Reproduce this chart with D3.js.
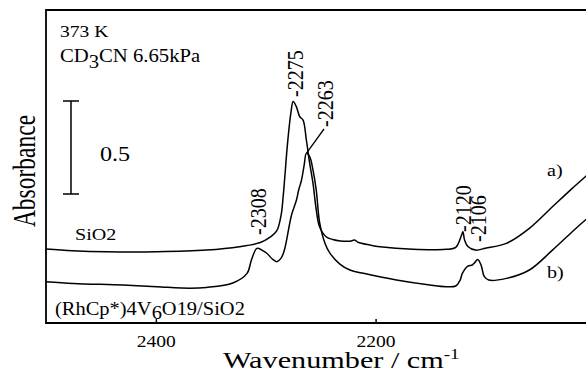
<!DOCTYPE html>
<html>
<head>
<meta charset="utf-8">
<script src="https://cdn.jsdelivr.net/npm/d3@7"></script>
<style>
  body { margin: 0; background: #fff; }
  svg { display: block; }
  text { font-family: "Liberation Serif", "Times New Roman", serif; fill: #000; }
</style>
</head>
<body>
<svg id="chart" width="586" height="374"></svg>
<script>
// wavenumber (cm-1) / absorbance
const wnA = [2500, 2476, 2445, 2399, 2354, 2324, 2305, 2296, 2290, 2286, 2284, 2280, 2277, 2275, 2272, 2269, 2266, 2263, 2260, 2257, 2254, 2251, 2245, 2239, 2232, 2223, 2219, 2216, 2205, 2196, 2166, 2136, 2127, 2122, 2120.5, 2119, 2116, 2109, 2100, 2081, 2060, 2039, 2021, 2009, 2000];
const absA = [0.398, 0.389, 0.383, 0.383, 0.392, 0.410, 0.433, 0.462, 0.495, 0.580, 0.688, 0.975, 1.134, 1.191, 1.161, 1.109, 1.091, 0.984, 0.860, 0.753, 0.608, 0.518, 0.464, 0.449, 0.441, 0.440, 0.446, 0.434, 0.419, 0.410, 0.396, 0.396, 0.407, 0.468, 0.491, 0.446, 0.411, 0.392, 0.402, 0.428, 0.509, 0.625, 0.724, 0.787, 0.833];

const wnB = [2500, 2475, 2430, 2399, 2369, 2354, 2330, 2317, 2313, 2308, 2303.5, 2299, 2294, 2290, 2286, 2283, 2281, 2276.5, 2272, 2270, 2267.4, 2265, 2263, 2260, 2257, 2254, 2251, 2246, 2241.6, 2232.5, 2223.4, 2211, 2181, 2150.6, 2136, 2127, 2123, 2121, 2116, 2112, 2110, 2107, 2104, 2101, 2097, 2081, 2060, 2039, 2021, 2009, 2000];
const absB = [0.222, 0.213, 0.204, 0.195, 0.187, 0.191, 0.215, 0.267, 0.339, 0.401, 0.392, 0.375, 0.344, 0.330, 0.349, 0.392, 0.446, 0.581, 0.661, 0.715, 0.769, 0.849, 0.912, 0.894, 0.823, 0.715, 0.543, 0.428, 0.376, 0.317, 0.285, 0.267, 0.231, 0.204, 0.195, 0.199, 0.231, 0.267, 0.306, 0.312, 0.323, 0.342, 0.312, 0.249, 0.231, 0.240, 0.285, 0.392, 0.491, 0.554, 0.597];

const xTicks = [2400, 2200];
const peakLabels = ["-2308", "-2275", "-2263", "-2120", "-2106"];
const scaleBarFrom = 0.694;
const scaleBarSize = 0.5;

const svg = d3.select("#chart");
const plotLeft = 46, plotTop = 10, plotBottom = 323;

const x = d3.scaleLinear().domain([2500, 2000]).range([plotLeft, 595.3]);
const y = d3.scaleLinear().domain([0, 1.683]).range([plotBottom, plotTop]);

// frame: left, top, bottom (right side is cut off in the scan)
svg.append("path")
  .attr("d", `M600,${plotTop}H${plotLeft}V${plotBottom}H600`)
  .attr("fill", "none")
  .attr("stroke", "#000")
  .attr("stroke-width", 1.8);

const xAxis = svg.append("g")
  .attr("transform", `translate(0,${plotBottom})`)
  .call(d3.axisBottom(x).tickValues(xTicks).tickSize(-4).tickFormat(d3.format("d")));
xAxis.select(".domain").remove();
xAxis.selectAll(".tick line").attr("stroke", "#000").attr("stroke-width", 1.5);
xAxis.selectAll(".tick text")
  .attr("font-size", 17)
  .attr("fill", "#000")
  .attr("y", 0)
  .attr("dy", 0)
  .attr("transform", "translate(0,24) scale(1.15,1)");

const line = d3.line()
  .x(d => x(d[0]))
  .y(d => y(d[1]))
  .curve(d3.curveCatmullRom.alpha(0.5));

[[wnA, absA], [wnB, absB]].forEach(([wn, ab]) => {
  svg.append("path")
    .datum(wn.map((w, i) => [w, ab[i]]))
    .attr("d", line)
    .attr("fill", "none")
    .attr("stroke", "#000")
    .attr("stroke-width", 1.5)
    .attr("stroke-linejoin", "round");
});

// 0.5 scale bar
const sbx = 71;
svg.append("path")
  .attr("d", `M${sbx},${y(scaleBarFrom)}V${y(scaleBarFrom + scaleBarSize)}` +
    `M${sbx - 8},${y(scaleBarFrom)}H${sbx + 8}M${sbx - 8},${y(scaleBarFrom + scaleBarSize)}H${sbx + 8}`)
  .attr("stroke", "#000")
  .attr("stroke-width", 1.5)
  .attr("fill", "none");

function label(px, py, size, sx, rotate) {
  let t = `translate(${px},${py}) scale(${sx},1)`;
  if (rotate) t += " rotate(-90)";
  return svg.append("text").attr("font-size", size).attr("transform", t);
}

label(100, 161, 21, 1.15).text("0.5");
label(60, 37, 17, 1.15).text("373 K");

const cd = label(60, 61.5, 18, 1.15);
cd.append("tspan").text("CD");
cd.append("tspan").attr("dy", 6.5).text("3");
cd.append("tspan").attr("dy", -6.5).text("CN 6.65kPa");

label(75, 240, 17.5, 1.15).text("SiO2");

const rh = label(55, 315, 17.8, 1.15);
rh.append("tspan").text("(RhCp*)4V");
rh.append("tspan").attr("dy", 4).text("6");
rh.append("tspan").attr("dy", -4).text("O19/SiO2");

label(547, 176, 17.5, 1.15).text("a)");
label(547, 278, 17.5, 1.15).text("b)");

const xl = label(223, 368, 24, 1.26);
xl.append("tspan").text("Wavenumber / cm");
xl.append("tspan").attr("font-size", 15).attr("dy", -9).text("-1");

label(35, 171, 23.5, 1.35, true).attr("text-anchor", "middle").text("Absorbance");

// peak labels, rotated, positioned by peak wavenumber
const peakPos = [
  { w: 2308, py: 235 },
  { w: 2275, py: 97 },
  { w: 2263, py: 127, lx: 325 },
  { w: 2120, py: 232, lx: 463.5 },
  { w: 2106, py: 242, lx: 478.5 }
];
peakLabels.forEach((s, i) => {
  const p = peakPos[i];
  const cx = p.lx !== undefined ? p.lx : x(p.w) + 2;
  label(cx + 7.5, p.py, 20, 1.15, true).text(s);
});

// leader from the 2263 band to its label
svg.append("line")
  .attr("x1", x(2263)).attr("y1", y(0.912))
  .attr("x2", 324).attr("y2", 129)
  .attr("stroke", "#000")
  .attr("stroke-width", 1.3);
</script>
</body>
</html>
